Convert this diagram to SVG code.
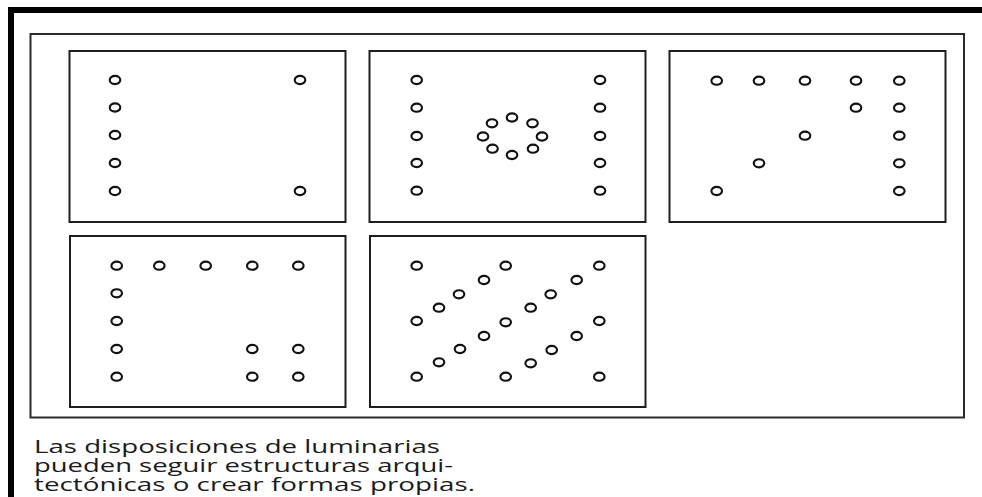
<svg xmlns="http://www.w3.org/2000/svg" xmlns:xlink="http://www.w3.org/1999/xlink" width="982" height="497" viewBox="0 0 982 497">
  <style>
    .panel { fill: #ffffff; stroke: #1e1e1e; stroke-width: 2; }
    .frame { fill: none; stroke: #2a2a2a; stroke-width: 2; }
    .lum { fill: #ffffff; stroke: #111111; stroke-width: 2.1; }
    .caption { font-family: "Open Sans", "Noto Sans", "Liberation Sans", sans-serif; font-size: 19px; fill: #1a1a1a; }
  </style>
  <defs>
    <ellipse id="l" class="lum" cx="0" cy="0" rx="5.3" ry="4.1"/>
  </defs>
  <rect x="0" y="0" width="982" height="497" fill="#ffffff"/>
  <!-- heavy border (top and left) -->
  <rect x="8" y="7" width="974" height="6" fill="#000000"/>
  <rect x="8" y="7" width="6" height="490" fill="#000000"/>

  <rect class="frame" x="30.5" y="34" width="933.5" height="383.5"/>

  <g id="panel1">
    <rect class="panel" x="69.5" y="51" width="276" height="171"/>
    <use xlink:href="#l" x="115" y="80"/>
    <use xlink:href="#l" x="115" y="107.5"/>
    <use xlink:href="#l" x="115" y="135"/>
    <use xlink:href="#l" x="115" y="163"/>
    <use xlink:href="#l" x="115" y="191"/>
    <use xlink:href="#l" x="300" y="80"/>
    <use xlink:href="#l" x="300" y="191"/>
  </g>

  <g id="panel2">
    <rect class="panel" x="369.5" y="51" width="276" height="171"/>
    <use xlink:href="#l" x="416.7" y="80"/>
    <use xlink:href="#l" x="416.7" y="107.7"/>
    <use xlink:href="#l" x="416.7" y="136"/>
    <use xlink:href="#l" x="416.7" y="163"/>
    <use xlink:href="#l" x="416.7" y="190.7"/>
    <use xlink:href="#l" x="600" y="80"/>
    <use xlink:href="#l" x="600" y="107.7"/>
    <use xlink:href="#l" x="600" y="136"/>
    <use xlink:href="#l" x="600" y="163"/>
    <use xlink:href="#l" x="600" y="190.7"/>
    <use xlink:href="#l" x="512" y="117.5"/>
    <use xlink:href="#l" x="532.5" y="123.3"/>
    <use xlink:href="#l" x="542" y="136.5"/>
    <use xlink:href="#l" x="533" y="148.7"/>
    <use xlink:href="#l" x="512" y="155"/>
    <use xlink:href="#l" x="492.5" y="148.7"/>
    <use xlink:href="#l" x="483" y="136.5"/>
    <use xlink:href="#l" x="492" y="123.3"/>
  </g>

  <g id="panel3">
    <rect class="panel" x="669.5" y="51" width="276" height="171"/>
    <use xlink:href="#l" x="716.7" y="80.7"/>
    <use xlink:href="#l" x="759" y="80.7"/>
    <use xlink:href="#l" x="805" y="80.7"/>
    <use xlink:href="#l" x="856" y="80.7"/>
    <use xlink:href="#l" x="899.3" y="80.7"/>
    <use xlink:href="#l" x="856" y="107.7"/>
    <use xlink:href="#l" x="899.3" y="107.7"/>
    <use xlink:href="#l" x="805" y="135.7"/>
    <use xlink:href="#l" x="899.3" y="135.7"/>
    <use xlink:href="#l" x="759" y="163.3"/>
    <use xlink:href="#l" x="899.3" y="163.3"/>
    <use xlink:href="#l" x="716.7" y="191"/>
    <use xlink:href="#l" x="899.3" y="191"/>
  </g>

  <g id="panel4">
    <rect class="panel" x="70" y="236" width="275.5" height="171"/>
    <use xlink:href="#l" x="116.7" y="265.7"/>
    <use xlink:href="#l" x="159.3" y="265.7"/>
    <use xlink:href="#l" x="205.7" y="265.7"/>
    <use xlink:href="#l" x="252.3" y="265.7"/>
    <use xlink:href="#l" x="298.3" y="265.7"/>
    <use xlink:href="#l" x="116.7" y="293.3"/>
    <use xlink:href="#l" x="116.7" y="321"/>
    <use xlink:href="#l" x="116.7" y="349"/>
    <use xlink:href="#l" x="252.3" y="349"/>
    <use xlink:href="#l" x="298.3" y="349"/>
    <use xlink:href="#l" x="116.7" y="376.7"/>
    <use xlink:href="#l" x="252.3" y="376.7"/>
    <use xlink:href="#l" x="298.3" y="376.7"/>
  </g>

  <g id="panel5">
    <rect class="panel" x="370" y="236" width="275.5" height="171"/>
    <use xlink:href="#l" x="416.7" y="265.7"/>
    <use xlink:href="#l" x="505.7" y="265.7"/>
    <use xlink:href="#l" x="599.3" y="265.7"/>
    <use xlink:href="#l" x="484" y="280"/>
    <use xlink:href="#l" x="576.7" y="280"/>
    <use xlink:href="#l" x="459" y="294.3"/>
    <use xlink:href="#l" x="550.7" y="294.3"/>
    <use xlink:href="#l" x="439" y="307.7"/>
    <use xlink:href="#l" x="530.7" y="307.7"/>
    <use xlink:href="#l" x="416.7" y="321"/>
    <use xlink:href="#l" x="505.7" y="322.3"/>
    <use xlink:href="#l" x="599.3" y="321"/>
    <use xlink:href="#l" x="484" y="336"/>
    <use xlink:href="#l" x="576.7" y="336"/>
    <use xlink:href="#l" x="460" y="349"/>
    <use xlink:href="#l" x="551.7" y="350"/>
    <use xlink:href="#l" x="439" y="362.3"/>
    <use xlink:href="#l" x="530.7" y="363.3"/>
    <use xlink:href="#l" x="416.7" y="376.7"/>
    <use xlink:href="#l" x="505.7" y="376.7"/>
    <use xlink:href="#l" x="599.3" y="376.7"/>
  </g>

  <g id="connectors"/>

  <g id="caption">
    <text class="caption" x="34" y="453" textLength="406" lengthAdjust="spacingAndGlyphs">Las disposiciones de luminarias</text>
    <text class="caption" x="34" y="472" textLength="419" lengthAdjust="spacingAndGlyphs">pueden seguir estructuras arqui-</text>
    <text class="caption" x="34" y="491" textLength="441" lengthAdjust="spacingAndGlyphs">tectónicas o crear formas propias.</text>
  </g>
</svg>
